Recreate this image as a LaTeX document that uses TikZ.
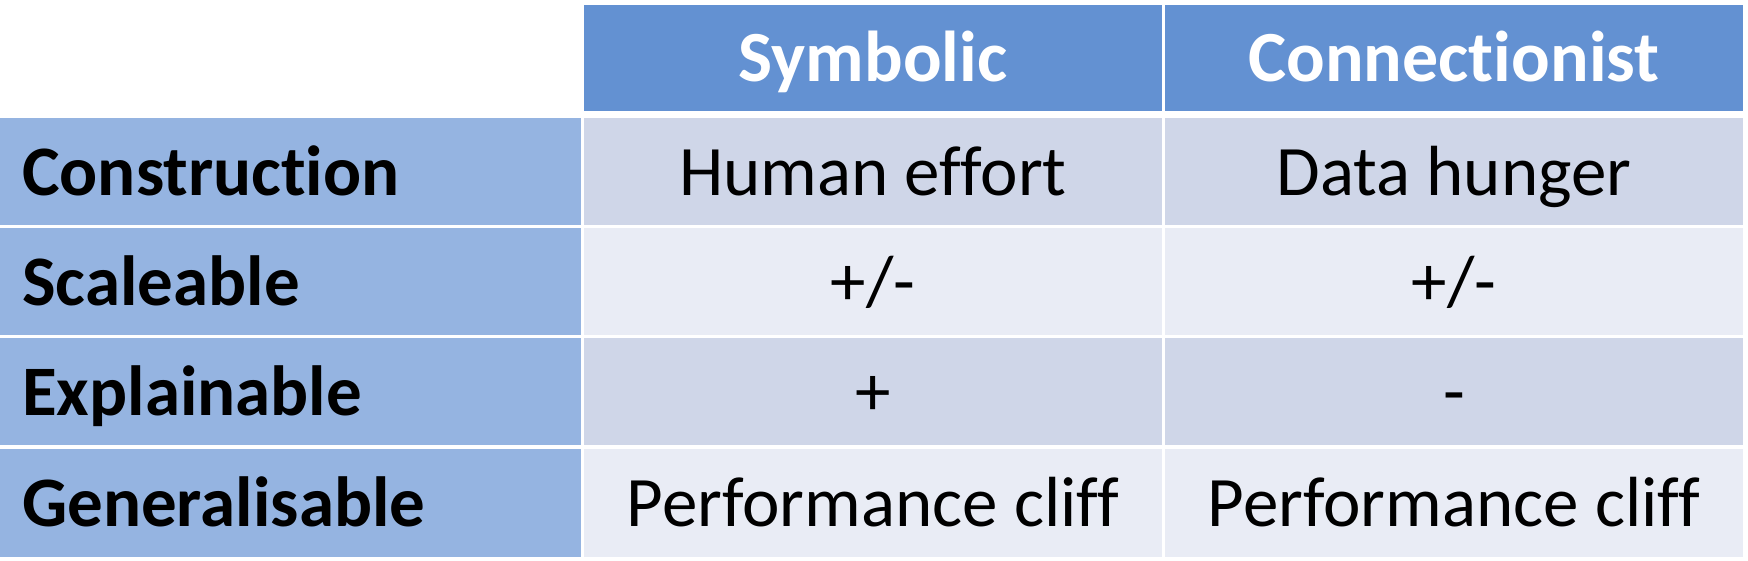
\documentclass[tikz,border=0pt]{standalone}
\usepackage{fontspec}
\setmainfont{Carlito}[Ligatures={NoCommon}]
\definecolor{hdr}{RGB}{99,145,210}
\definecolor{firstcol}{RGB}{149,180,225}
\definecolor{rowa}{RGB}{207,214,232}
\definecolor{rowb}{RGB}{233,236,245}
\begin{document}
\begin{tikzpicture}[x=1pt,y=-1pt,
  txt/.style={inner sep=0pt,anchor=base,font=\fontsize{71}{80}\selectfont},
  hdrtxt/.style={txt,font=\fontsize{72}{80}\selectfont\bfseries,text=white},
  lbltxt/.style={txt,anchor=base west,font=\fontsize{71}{80}\selectfont\bfseries}]
\useasboundingbox (0,0) rectangle (1748,560);
\fill[white] (0,0) rectangle (1748,560);
% header
\fill[hdr] (584,5) rectangle (1162,111);
\fill[hdr] (1165,5) rectangle (1743,111);
% rows
\foreach \t/\b/\c in {118/225/rowa,228/335/rowb,338/445/rowa,449/557/rowb}{
  \fill[firstcol] (0,\t) rectangle (581,\b);
  \fill[\c] (584,\t) rectangle (1162,\b);
  \fill[\c] (1165,\t) rectangle (1743,\b);
}
% header texts
\node[hdrtxt] (hsym) at (873,81) {Symbolic};
\node[hdrtxt] (hcon) at (1454,81) {Connectionist};
% row labels
\node[lbltxt] (lcon) at (22,195) {Construction};
\node[lbltxt] (lsca) at (22,305) {Scaleable};
\node[lbltxt] (lexp) at (22,415) {Explainable};
\node[lbltxt] (lgen) at (22,526) {Generalisable};
% cells
\node[txt] (c11) at (873,195) {Human effort};
\node[txt] (c12) at (1454,195) {Data hunger};
\node[txt] (c21) at (873,305) {+/-};
\node[txt] (c22) at (1454,305) {+/-};
\node[txt] (c31) at (873,415) {+};
\node[txt] (c32) at (1454,415) {-};
\node[txt] (c41) at (873,526) {Performance cliff};
\node[txt] (c42) at (1454,526) {Performance cliff};
\end{tikzpicture}
\end{document}
